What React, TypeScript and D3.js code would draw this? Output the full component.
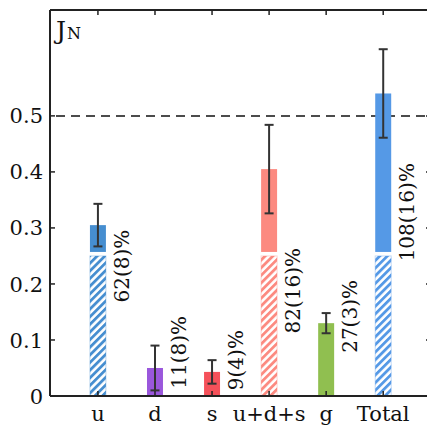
import * as d3 from 'd3';

const categories = ['u', 'd', 's', 'u+d+s', 'g', 'Total'];
const values = [0.305, 0.05, 0.043, 0.405, 0.13, 0.54];
const errors = [0.038, 0.04, 0.021, 0.079, 0.018, 0.079];
const fractions = ['62(8)%', '11(8)%', '9(4)%', '82(16)%', '27(3)%', '108(16)%'];
const hatched = [true, false, false, true, false, true];
const barColors = ['#468ed0', '#9a57dc', '#f5515a', '#fc8a80', '#90bf50', '#5599e6'];
// where each rotated label is centred, in data units
const labelMid = [0.232, 0.078, 0.064, 0.188, 0.142, 0.328];
const yTicks = [0, 0.1, 0.2, 0.3, 0.4, 0.5];
const hatchTop = 0.25;
const refLine = 0.5;

const W = 427;
const H = 427;
const left = 50;
const right = 430;
const spineRight = 432; // right spine sits just outside the picture
const top = 10;
const bottom = 396;
const font = '"DejaVu Serif", serif';

const App = () => {
  const x = d3.scaleLinear().domain([-0.84, 5.82]).range([left, right]);
  const y = d3.scaleLinear().domain([0, 0.689]).range([bottom, top]);
  const barW = x(0.28) - x(0);
  const gap = 4;

  return (
    <svg width={W} height={H} style={{ position: 'absolute', left: 0, top: 0 }}>
      <defs>
        {categories.map((c, i) => (
          <pattern key={c} id={`hatch${i}`} patternUnits="userSpaceOnUse"
            width={5.4} height={5.4} patternTransform="rotate(45)">
            <rect width={5.4} height={5.4} fill="#fff" />
            <rect width={2.8} height={5.4} fill={barColors[i]} />
          </pattern>
        ))}
      </defs>

      {/* reference line */}
      <line x1={left} x2={spineRight} y1={y(refLine)} y2={y(refLine)}
        stroke="#111" strokeWidth={1.5} strokeDasharray="9,6" strokeDashoffset={-6} />

      {/* bars */}
      {categories.map((c, i) => {
        const cx = x(i);
        const v = values[i];
        if (hatched[i]) {
          return (
            <g key={c}>
              <rect x={cx - barW / 2} y={y(hatchTop)} width={barW} height={bottom - y(hatchTop)}
                fill={`url(#hatch${i})`} stroke={barColors[i]} strokeOpacity={0.35} strokeWidth={1} />
              <rect x={cx - barW / 2} y={y(v)} width={barW} height={y(hatchTop) - gap - y(v)}
                fill={barColors[i]} />
            </g>
          );
        }
        return (
          <rect key={c} x={cx - barW / 2} y={y(v)} width={barW} height={bottom - y(v)} fill={barColors[i]} />
        );
      })}

      {/* error bars */}
      {categories.map((c, i) => {
        const cx = x(i);
        const hi = y(values[i] + errors[i]);
        const lo = y(values[i] - errors[i]);
        return (
          <g key={c} stroke="#333" strokeWidth={2}>
            <line x1={cx} x2={cx} y1={hi} y2={lo} />
            <line x1={cx - 4.5} x2={cx + 4.5} y1={hi} y2={hi} />
            <line x1={cx - 4.5} x2={cx + 4.5} y1={lo} y2={lo} />
          </g>
        );
      })}

      {/* rotated percentage labels */}
      {categories.map((c, i) => (
        <text key={c} transform={`translate(${x(i) + 31},${y(labelMid[i])}) rotate(-90)`}
          textAnchor="middle" fontFamily={font} fontSize={20} fill="#111">
          {fractions[i]}
        </text>
      ))}

      {/* spines */}
      <g stroke="#222" strokeWidth={2} fill="none">
        <line x1={left} x2={left} y1={top} y2={bottom} />
        <line x1={left} x2={spineRight} y1={bottom} y2={bottom} />
        <line x1={left} x2={spineRight} y1={top} y2={top} />
        <line x1={spineRight} x2={spineRight} y1={top} y2={bottom} />
      </g>

      {/* ticks */}
      <g stroke="#222" strokeWidth={1.5}>
        {categories.map((c, i) => (
          <g key={c}>
            <line x1={x(i)} x2={x(i)} y1={top} y2={top + 5} />
            <line x1={x(i)} x2={x(i)} y1={bottom} y2={bottom - 5} />
          </g>
        ))}
        {yTicks.map(t => (
          <g key={t}>
            <line x1={left} x2={left + 5} y1={y(t)} y2={y(t)} />
            <line x1={spineRight} x2={spineRight - 6} y1={y(t)} y2={y(t)} />
          </g>
        ))}
      </g>

      {/* y tick labels */}
      {yTicks.map(t => (
        <text key={t} x={left - 7} y={y(t)} dy="0.36em" textAnchor="end"
          fontFamily={font} fontSize={21} fill="#111">
          {t === 0 ? '0' : d3.format('.1f')(t)}
        </text>
      ))}

      {/* x tick labels */}
      {categories.map((c, i) => (
        <text key={c} x={x(i)} y={421} textAnchor="middle" fontFamily={font} fontSize={21} fill="#111">
          {c}
        </text>
      ))}

      {/* panel label */}
      <text x={56} y={39} fontFamily={font} fill="#111">
        <tspan fontSize={25}>J</tspan>
        <tspan fontSize={16} dx={1}>N</tspan>
      </text>
    </svg>
  );
};

export default App;
